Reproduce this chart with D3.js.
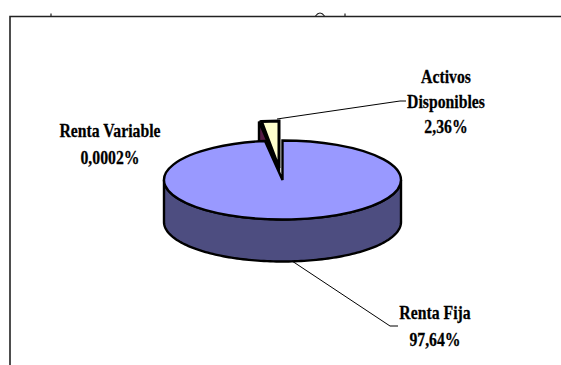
<!DOCTYPE html>
<html><head><meta charset="utf-8">
<script src="https://cdn.jsdelivr.net/npm/d3@7"></script>
<style>html,body{margin:0;padding:0;background:#fff;overflow:hidden}svg{display:block}
text{font-family:"Liberation Serif",serif;font-weight:bold;font-size:18px;fill:#000;stroke:#000;stroke-width:.25px;text-anchor:middle}</style>
</head><body>
<script>
const categories = ["Renta Fija", "Renta Variable", "Activos Disponibles"];
const shares = [97.64, 0.0002, 2.36];
const shareLabels = ["97,64%", "0,0002%", "2,36%"];
const topColors = ["#9999ff", "#993366", "#ffffcc"];
const wallColors = ["#4d4d80", "#551a44", "#551a44"];

const W = 561, H = 365;
const svg = d3.select("body").append("svg").attr("width", W).attr("height", H);

// frame, cut by the window edges, and the clipped remains of the title
svg.append("path").attr("d", `M10,${H}V16.5H${W}`).attr("fill", "none").attr("stroke", "#222").attr("stroke-width", 1.6);
svg.append("path").attr("d", "M51,16V13.5M345,16V13.5M315.5,16Q320,10 324.5,16").attr("fill", "none").attr("stroke", "#222").attr("stroke-width", 1.2);

const cx = 282.5, cy = 180, rx = 118.5, ry = 39.5, depth = 42;
const pieData = d3.pie().sort(null).value(d => d)(shares);
const arc = d3.arc().innerRadius(0).outerRadius(rx);
const sliceMain = pieData[0], sliceOut = pieData[2];

// exploded slice
const outDx = -3.5, outApexY = 168, outRy = 47, wallSkew = -2.5;
const xOf = a => rx * Math.sin(a), yOf = (a, r) => -r * Math.cos(a);
const wall = d3.line();
const leftA = pieData[1].startAngle;
const wallPts = [
  [cx + outDx + xOf(leftA) + wallSkew, outApexY + yOf(leftA, outRy)],
  [cx + outDx, outApexY],
  [cx + outDx, outApexY + depth],
  [cx + outDx + xOf(leftA) + wallSkew, outApexY + yOf(leftA, outRy) + depth]
];
const clip = svg.append("clipPath").attr("id", "notch");
clip.append("path").attr("d", arc(sliceOut))
  .attr("transform", `translate(${cx},${cy}) scale(1,${ry / rx})`);

svg.append("path").attr("d", wall(wallPts) + "Z")
  .attr("fill", wallColors[2]).attr("stroke", "#000").attr("stroke-width", 2.4);
svg.append("g").attr("clip-path", "url(#notch)")
  .append("path").attr("d", wall(wallPts) + "Z").attr("fill", "#000");
svg.append("path").attr("d", arc(sliceOut))
  .attr("transform", `translate(${cx + outDx},${outApexY}) scale(1,${outRy / rx})`)
  .attr("fill", topColors[2]).attr("stroke", "#000").attr("stroke-width", 3)
  .attr("stroke-linejoin", "miter").attr("vector-effect", "non-scaling-stroke");

// main slice wall (front half of the rim)
const angles = d3.range(Math.PI / 2, 3 * Math.PI / 2 + 0.001, Math.PI / 120);
const area = d3.area().x(a => cx + xOf(a)).y0(a => cy + yOf(a, ry)).y1(a => cy + yOf(a, ry) + depth);
svg.append("path").attr("d", area(angles)).attr("fill", wallColors[0])
  .attr("stroke", "#000").attr("stroke-width", 2.4);

// main slice top
svg.append("path").attr("d", arc(sliceMain))
  .attr("transform", `translate(${cx},${cy}) scale(1,${ry / rx})`)
  .attr("fill", topColors[0]).attr("stroke", "#000").attr("stroke-width", 2.4)
  .attr("vector-effect", "non-scaling-stroke");

// leader lines
const leaders = [
  [[292, 261], [390, 326], [398, 326]],
  [[277, 119], [400, 101], [406, 101]]
];
svg.selectAll("path.leader").data(leaders).join("path").attr("class", "leader")
  .attr("d", d3.line()).attr("fill", "none").attr("stroke", "#000").attr("stroke-width", 1);

// labels
const labelSpots = [
  { x: 435, y: [319, 346], lines: [categories[0], shareLabels[0]] },
  { x: 110, y: [137, 164], lines: [categories[1], shareLabels[1]] },
  { x: 446, y: [83, 108, 133], lines: ["Activos", "Disponibles", shareLabels[2]] }
];
const squeeze = 0.875;
labelSpots.forEach(l => {
  l.lines.forEach((t, i) => svg.append("text")
    .attr("transform", `translate(${l.x},${l.y[i]}) scale(${squeeze},1)`).text(t));
});
</script>
</body></html>
